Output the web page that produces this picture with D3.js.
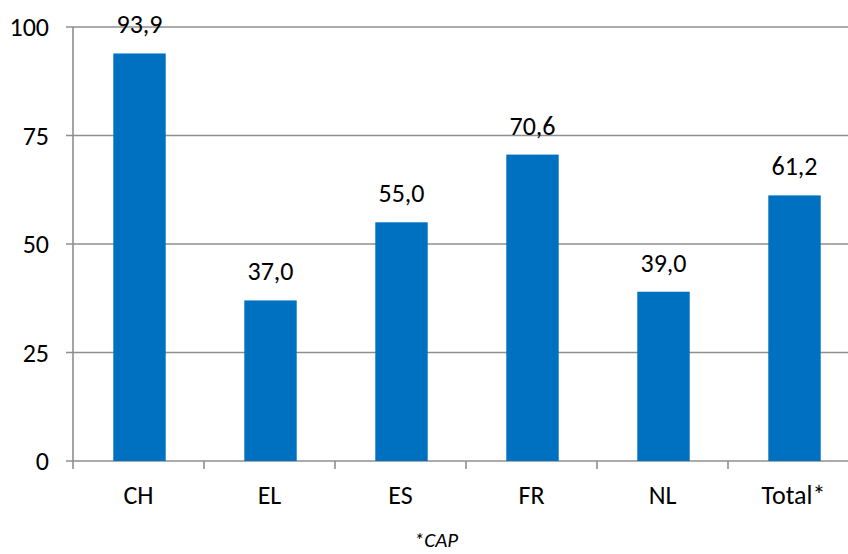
<!DOCTYPE html>
<html><head><meta charset="utf-8">
<script src="https://d3js.org/d3.v7.min.js"></script>
<style>body{margin:0;background:#fff}svg{display:block}</style>
</head><body>
<script>
const categories = ["CH","EL","ES","FR","NL","Total*"];
const values = [93.9, 37.0, 55.0, 70.6, 39.0, 61.2];
const yTicks = [0,25,50,75,100];
const footnote = "*CAP";

(function(){
const W = 848, H = 554;
const mLeft = 73, mRight = 859, mTop = 27, mBottom = 461;
const font = "Carlito, Calibri, 'Open Sans', 'Noto Sans', sans-serif";
const fs = 26;
const svg = d3.select("body").append("svg").attr("width", W).attr("height", H);

const y = d3.scaleLinear().domain([0,100]).range([mBottom, mTop]);
const x = d3.scaleBand().domain(categories).range([mLeft, mRight]).paddingInner(0).paddingOuter(0);
const barW = x.bandwidth() * 0.4;
const grid = "#8f8f8f";

svg.append("g").selectAll("line").data(yTicks).join("line")
  .attr("x1", mLeft - 7).attr("x2", mRight)
  .attr("y1", d => y(d)).attr("y2", d => y(d))
  .attr("stroke", grid).attr("stroke-width", 1.6);

svg.append("line").attr("x1", mLeft).attr("x2", mLeft).attr("y1", mTop).attr("y2", mBottom + 8)
  .attr("stroke", grid).attr("stroke-width", 1.6);

svg.append("g").selectAll("line").data(categories.slice(1)).join("line")
  .attr("x1", d => x(d)).attr("x2", d => x(d))
  .attr("y1", mBottom).attr("y2", mBottom + 8)
  .attr("stroke", grid).attr("stroke-width", 1.6);

svg.append("g").selectAll("text").data(yTicks).join("text")
  .attr("x", 49).attr("y", d => y(d) + 9)
  .attr("text-anchor", "end").attr("font-family", font).attr("font-size", fs).attr("fill", "#000")
  .text(d => d);

svg.append("g").selectAll("rect").data(values).join("rect")
  .attr("x", (d,i) => x(categories[i]) + x.bandwidth()/2 - barW/2 + 1)
  .attr("width", barW)
  .attr("y", d => y(d)).attr("height", d => mBottom - y(d))
  .attr("fill", "#0070C0");

svg.append("g").selectAll("text").data(values).join("text")
  .attr("x", (d,i) => x(categories[i]) + x.bandwidth()/2 + 1)
  .attr("y", d => y(d) - 20)
  .attr("text-anchor", "middle").attr("font-family", font).attr("font-size", fs).attr("fill", "#000")
  .text(d => d.toFixed(1).replace(".", ","));

svg.append("g").selectAll("text").data(categories).join("text")
  .attr("x", d => x(d) + x.bandwidth()/2)
  .attr("y", 504)
  .attr("text-anchor", "middle").attr("font-family", font).attr("font-size", fs).attr("fill", "#000")
  .text(d => d);

svg.append("text").attr("x", 436).attr("y", 547)
  .attr("text-anchor", "middle").attr("font-family", font).attr("font-size", 21)
  .attr("font-style", "italic").attr("fill", "#000").text(footnote);
})();
</script>
</body></html>
